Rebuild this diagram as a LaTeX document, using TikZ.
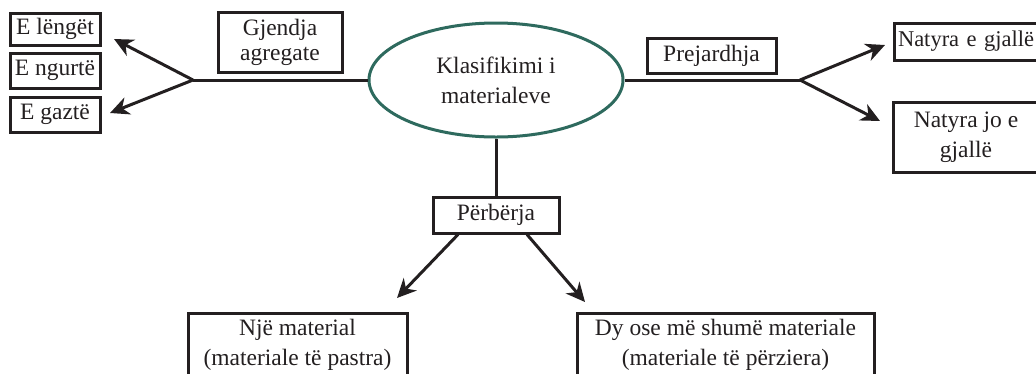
\documentclass[tikz,border=0pt]{standalone}
\usepackage{fontspec}
\setmainfont{Liberation Serif}
\usetikzlibrary{shapes.geometric,arrows.meta}
\definecolor{ink}{HTML}{231F20}
\definecolor{ovalc}{RGB}{46,106,94}
\begin{document}
\begin{tikzpicture}[x=1pt,y=-1pt,
  txtfont/.style={font=\fontsize{23.5}{30}\selectfont},
  box/.style={draw=ink, line width=3pt, text=ink, inner sep=0pt, align=center, txtfont},
  oval/.style={ellipse, draw=ovalc, line width=3pt, text=ink, inner sep=0pt, align=center, txtfont},
  conn/.style={draw=ink, line width=3pt},
  arr/.style={conn, -{Stealth[length=19pt,width=18pt,inset=6pt]}}]
\clip (0,0) rectangle (1036,373);

% centre
\node[oval, minimum width=254, minimum height=114] (cls) at (496,80) {Klasifikimi i\\materialeve};

% left branch
\node[box, minimum width=124, minimum height=60, font=\fontsize{23.5}{25}\selectfont] (gja) at (280,42) {Gjendja\\agregate};
\node[box, minimum width=90, minimum height=32] (lenget) at (55,29) {E lëngët};
\node[box, minimum width=90, minimum height=35] (ngurte) at (55,70.5) {E ngurtë};
\node[box, minimum width=90, minimum height=35] (gazte) at (55,114.5) {E gaztë};
\coordinate (fl) at (193,80);
\coordinate (tl1) at (114,39);
\coordinate (tl2) at (110,113);
\draw[conn] (cls.west) -- (fl);
\draw[arr] (fl) -- (tl1);
\draw[arr] (fl) -- (tl2);

% right branch
\node[box, minimum width=129, minimum height=35] (prej) at (711.5,55.5) {Prejardhja};
\node[box, anchor=west, minimum height=37, inner xsep=3.5pt, text width=150pt, align=left, font=\fontsize{22.5}{28}\selectfont] (gjalle) at (893,41.5) {Natyra e gjallë};
\node[box, minimum width=146, minimum height=70] (jogjalle) at (966,137) {Natyra jo e\\gjallë};
\coordinate (fr) at (800,80);
\coordinate (tr1) at (885,45);
\coordinate (tr2) at (880,121);
\draw[conn] (cls.east) -- (fr);
\draw[arr] (fr) -- (tr1);
\draw[arr] (fr) -- (tr2);

% bottom branch
\node[box, minimum width=126, minimum height=36] (perb) at (496,215) {Përbërja};
\node[box, minimum width=219, minimum height=64] (nje) at (297.5,345) {Një material\\(materiale të pastra)};
\node[box, minimum width=297, minimum height=64] (dy) at (725.5,345) {Dy ose më shumë materiale\\(materiale të përziera)};
\coordinate (tb1) at (397,298);
\coordinate (tb2) at (585,302);
\draw[conn] (cls.south) -- (perb.north);
\draw[arr] ([xshift=-38pt]perb.south) -- (tb1);
\draw[arr] ([xshift=31pt]perb.south) -- (tb2);
\end{tikzpicture}
\end{document}
